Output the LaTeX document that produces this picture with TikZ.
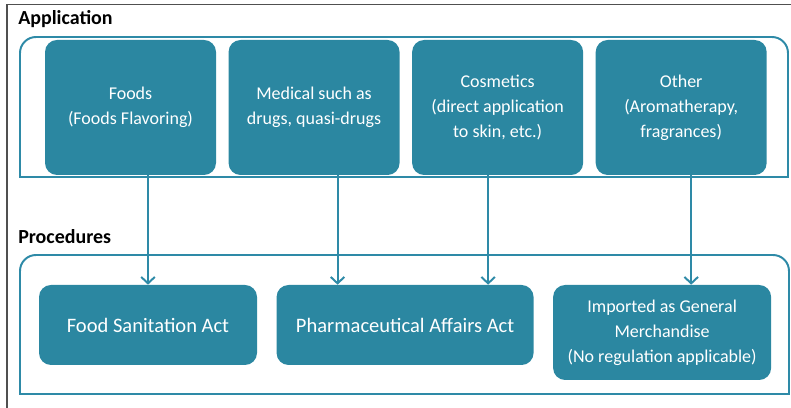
\documentclass[tikz,border=0pt]{standalone}
\usepackage{fontspec}
\setmainfont{Carlito}
\usepackage{tikz}
\usetikzlibrary{positioning, arrows.meta}
\definecolor{tealbox}{RGB}{43, 135, 161}
\definecolor{tealline}{RGB}{46, 138, 167}
\definecolor{edgegray}{RGB}{80, 80, 80}

\begin{document}
\begin{tikzpicture}[
    usebox/.style={rectangle, rounded corners=0.3cm, fill=tealbox, text=white,
      minimum width=4.275cm, minimum height=3.375cm, align=center,
      font=\fontsize{12.8}{17.8}\selectfont},
    lawbox/.style={rectangle, rounded corners=0.3cm, fill=tealbox, text=white,
      minimum height=2cm, align=center, font=\fontsize{14.6}{17.8}\selectfont},
    heading/.style={anchor=base west, inner sep=0pt, font=\fontsize{14.2}{17}\selectfont\bfseries},
    frame/.style={draw=tealline, line width=1.4pt},
    arr/.style={draw=tealline, line width=1.4pt, -{Straight Barb[length=1.6mm, width=3.4mm]}}
  ]
  \useasboundingbox (0,0) rectangle (19.775,10.2);
  \draw[edgegray, line width=1pt] (0.175,0) -- (0.175,10.0875) -- (19.775,10.0875);

  % Application
  \node[heading] (apptitle) at (0.45,9.575) {Application};
  \draw[frame] (0.5,5.775) [rounded corners=0.4cm] -- (0.5,9.275) -- (19.7,9.275)
    [sharp corners] -- (19.7,5.775) -- cycle;
  \node[usebox] (foods) at (3.2625,7.5125) {Foods\\(Foods Flavoring)};
  \node[usebox, right=0.3cm of foods] (medical) {Medical such as\\drugs, quasi-drugs};
  \node[usebox, right=0.3cm of medical] (cosmetics) {Cosmetics\\(direct application\\to skin, etc.)};
  \node[usebox, right=0.3cm of cosmetics] (other) {Other\\(Aromatherapy,\\fragrances)};

  % Procedures
  \node[heading] (proctitle) at (0.45,4.1) {Procedures};
  \draw[frame] (0.5,0.35) [rounded corners=0.4cm] -- (0.5,3.825) -- (19.725,3.825)
    [sharp corners] -- (19.725,0.35) -- cycle;
  \node[lawbox, minimum width=5.45cm] (fsa) at (3.7,2.075) {Food Sanitation Act};
  \node[lawbox, minimum width=6.425cm, right=0.475cm of fsa] (paa) {Pharmaceutical Affairs Act};
  \node[lawbox, minimum width=5.45cm, minimum height=2.375cm, font=\fontsize{12.8}{17.8}\selectfont,
    anchor=north west] (imp) at ([xshift=0.475cm]paa.north east)
    {Imported as General\\Merchandise\\(No regulation applicable)};

  \draw[arr] ([xshift=0.4375cm]foods.south) -- (fsa.north);
  \draw[arr] ([xshift=0.5875cm]medical.south) -- ([xshift=0.5875cm]medical.south |- paa.north);
  \draw[arr] ([xshift=-0.2375cm]cosmetics.south) -- ([xshift=-0.2375cm]cosmetics.south |- paa.north);
  \draw[arr] ([xshift=0.25cm]other.south) -- ([xshift=0.25cm]other.south |- imp.north);
\end{tikzpicture}
\end{document}
